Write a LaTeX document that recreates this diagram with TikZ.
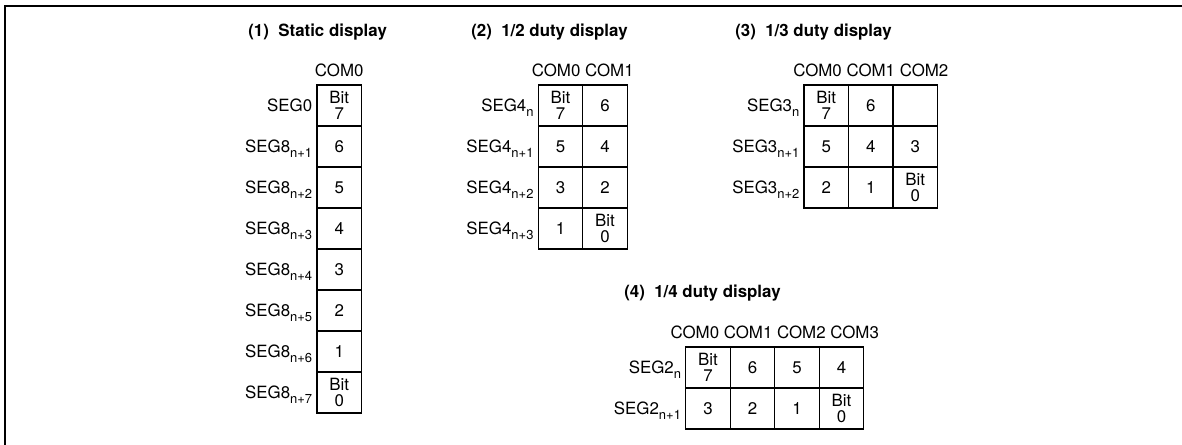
\documentclass[tikz,border=0pt]{standalone}
\usepackage{fontspec}
\setmainfont{TeX Gyre Heros}
\usetikzlibrary{positioning}

\newcommand{\lo}[1]{\raisebox{-2.8pt}{\fontsize{7.4}{7}\selectfont #1}}

\tikzset{
	cell/.style={draw, line width=0.8pt, minimum width=0.89cm, minimum height=0.82cm, inner sep=0pt, outer sep=0pt, align=center},
	seglabel/.style={inner sep=0pt, text height=6.8pt, text depth=0pt},
	comlabel/.style={inner sep=0pt},
	heading/.style={anchor=base west, inner sep=0pt, font=\fontsize{9.6}{9.5}\selectfont\bfseries}
}

\begin{document}
\begin{tikzpicture}[x=0.02cm, y=-0.02cm, font=\fontsize{9.6}{9.5}\selectfont]
	\useasboundingbox (0,0) rectangle (1182,445);
	%frame
	\draw[line width=1.2pt] (1182,6)--(5,6)--(5,445);	%top and left edge

	%(1) static display
	\node[heading] (h1) at (248,36.5) {(1)\ \ Static display};
	\node[cell] (a1) at (339.2,105.5) {Bit\\7};
	\node[cell, below=0pt of a1] (a2) {6};
	\node[cell, below=0pt of a2] (a3) {5};
	\node[cell, below=0pt of a3] (a4) {4};
	\node[cell, below=0pt of a4] (a5) {3};
	\node[cell, below=0pt of a5] (a6) {2};
	\node[cell, below=0pt of a6] (a7) {1};
	\node[cell, below=0pt of a7] (a8) {Bit\\0};
		\node[comlabel, above=4.5pt of a1] (ca) {COM0};
		\node[seglabel, left=2.5pt of a1] (sa1) {SEG0};
		\node[seglabel, left=2.5pt of a2] (sa2) {SEG8\lo{n+1}};
		\node[seglabel, left=2.5pt of a3] (sa3) {SEG8\lo{n+2}};
		\node[seglabel, left=2.5pt of a4] (sa4) {SEG8\lo{n+3}};
		\node[seglabel, left=2.5pt of a5] (sa5) {SEG8\lo{n+4}};
		\node[seglabel, left=2.5pt of a6] (sa6) {SEG8\lo{n+5}};
		\node[seglabel, left=2.5pt of a7] (sa7) {SEG8\lo{n+6}};
		\node[seglabel, left=2.5pt of a8] (sa8) {SEG8\lo{n+7}};

	%(2) 1/2 duty display
	\node[heading] (h2) at (471,36.5) {(2)\ \ 1/2 duty display};
	\node[cell] (b11) at (560.5,105.5) {Bit\\7};
	\node[cell, right=0pt of b11] (b12) {6};
	\node[cell, below=0pt of b11] (b21) {5};
	\node[cell, right=0pt of b21] (b22) {4};
	\node[cell, below=0pt of b21] (b31) {3};
	\node[cell, right=0pt of b31] (b32) {2};
	\node[cell, below=0pt of b31] (b41) {1};
	\node[cell, right=0pt of b41] (b42) {Bit\\0};
		\node[comlabel, above=4.5pt of b11.north east] (cb) {COM0 COM1};
		\node[seglabel, left=2.5pt of b11] (sb1) {SEG4\lo{n}};
		\node[seglabel, left=2.5pt of b21] (sb2) {SEG4\lo{n+1}};
		\node[seglabel, left=2.5pt of b31] (sb3) {SEG4\lo{n+2}};
		\node[seglabel, left=2.5pt of b41] (sb4) {SEG4\lo{n+3}};

	%(3) 1/3 duty display
	\node[heading] (h3) at (735,36.5) {(3)\ \ 1/3 duty display};
	\node[cell] (c11) at (826.3,105.5) {Bit\\7};
	\node[cell, right=0pt of c11] (c12) {6};
	\node[cell, right=0pt of c12] (c13) {};
	\node[cell, below=0pt of c11] (c21) {5};
	\node[cell, right=0pt of c21] (c22) {4};
	\node[cell, right=0pt of c22] (c23) {3};
	\node[cell, below=0pt of c21] (c31) {2};
	\node[cell, right=0pt of c31] (c32) {1};
	\node[cell, right=0pt of c32] (c33) {Bit\\0};
		\node[comlabel, above=4.5pt of c12] (cc) {COM0 COM1 COM2};
		\node[seglabel, left=2.5pt of c11] (sc1) {SEG3\lo{n}};
		\node[seglabel, left=2.5pt of c21] (sc2) {SEG3\lo{n+1}};
		\node[seglabel, left=2.5pt of c31] (sc3) {SEG3\lo{n+2}};

	%(4) 1/4 duty display
	\node[heading] (h4) at (624,298) {(4)\ \ 1/4 duty display};
	\node[cell] (d11) at (708,367.5) {Bit\\7};
	\node[cell, right=0pt of d11] (d12) {6};
	\node[cell, right=0pt of d12] (d13) {5};
	\node[cell, right=0pt of d13] (d14) {4};
	\node[cell, below=0pt of d11] (d21) {3};
	\node[cell, right=0pt of d21] (d22) {2};
	\node[cell, right=0pt of d22] (d23) {1};
	\node[cell, right=0pt of d23] (d24) {Bit\\0};
		\node[comlabel, above=4.5pt of d12.north east] (cd) {COM0 COM1 COM2 COM3};
		\node[seglabel, left=2.5pt of d11] (sd1) {SEG2\lo{n}};
		\node[seglabel, left=2.5pt of d21] (sd2) {SEG2\lo{n+1}};
\end{tikzpicture}
\end{document}
